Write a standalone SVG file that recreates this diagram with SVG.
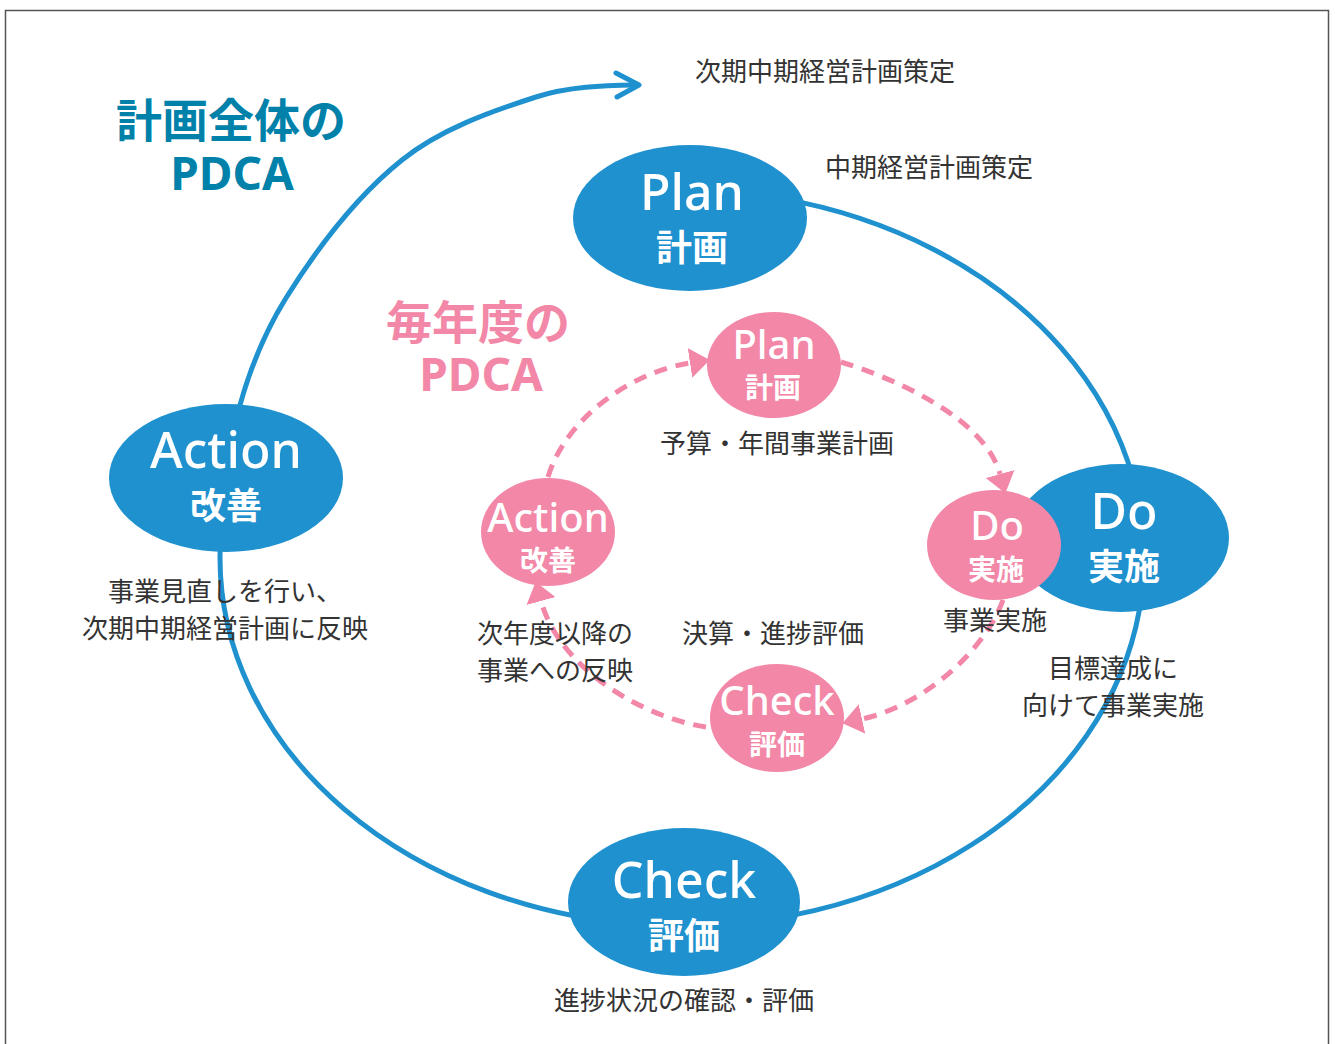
<svg xmlns="http://www.w3.org/2000/svg" width="1335" height="1044" viewBox="0 0 1335 1044">
<defs>
<style>
.lbl{font-family:"Noto Sans CJK JP","Noto Sans",sans-serif;font-size:26px;fill:#333;text-anchor:middle}
.big{font-family:"Noto Sans","Noto Sans CJK JP",sans-serif;font-weight:500;font-size:50px;fill:#fff;text-anchor:middle}
.bigj{font-family:"Noto Sans CJK JP",sans-serif;font-weight:700;font-size:36px;fill:#fff;text-anchor:middle}
.sm{font-family:"Noto Sans","Noto Sans CJK JP",sans-serif;font-weight:500;font-size:40px;fill:#fff;text-anchor:middle}
.smj{font-family:"Noto Sans CJK JP",sans-serif;font-weight:700;font-size:28px;fill:#fff;text-anchor:middle}
.ttl{font-family:"Noto Sans","Noto Sans CJK JP",sans-serif;font-weight:700;font-size:46px;text-anchor:middle}
.blue{fill:#1f91cf}
.pink{fill:#f287a7}
.main{fill:none;stroke:#1f91cf;stroke-width:5}
.dash{fill:none;stroke:#f287a7;stroke-width:5;stroke-dasharray:13 9}
</style>
<marker id="ah" markerUnits="userSpaceOnUse" markerWidth="20" markerHeight="30" viewBox="0 0 20 30" refX="0" refY="15" orient="auto">
<path d="M0,0 L20,15 L0,30 Z" fill="#f287a7"/>
</marker>
</defs>
<rect x="5.5" y="10.5" width="1323" height="1100" fill="#fff" stroke="#555" stroke-width="1.5"/>

<g id="connectors">
<path class="main" d="M780,198.4 A462,368 0 1 1 220,558 C220,469 239,373.5 286,298 C317.8,247.1 355.1,197.5 402,160 C440.3,129.4 489.3,112 536,97 C568.4,86.6 603,85.5 636,85"/>
<polyline points="616,73 639,85 617,97" fill="none" stroke="#1f91cf" stroke-width="5" stroke-linecap="round" stroke-linejoin="round"/>
<path class="dash" d="M548,477 C565,420 630,372 690,363" marker-end="url(#ah)"/>
<path class="dash" d="M841,362 C900,380 985,420 1000,474" marker-end="url(#ah)"/>
<path class="dash" d="M1003,600 C985,650 925,705 862,719" marker-end="url(#ah)"/>
<path class="dash" d="M706,727 C645,718 560,670 541,601" marker-end="url(#ah)"/>
</g>

<g id="title-overall">
<text class="ttl" x="231" y="137" fill="#0081aa">計画全体の</text>
<text class="ttl" x="232" y="190" fill="#0081aa" font-size="53">PDCA</text>
</g>
<g id="title-annual">
<text class="ttl" x="478" y="339" fill="#f287a7">毎年度の</text>
<text class="ttl" x="481" y="391" fill="#f287a7" font-size="51">PDCA</text>
</g>

<g id="node-plan">
<ellipse class="blue" cx="690" cy="218" rx="117" ry="73"/>
<text class="big" x="692" y="210">Plan</text>
<text class="bigj" x="692" y="261">計画</text>
</g>
<g id="node-do">
<ellipse class="blue" cx="1121" cy="538" rx="108" ry="74"/>
<text class="big" x="1124" y="529">Do</text>
<text class="bigj" x="1124" y="580">実施</text>
</g>
<g id="node-check">
<ellipse class="blue" cx="684" cy="902" rx="116" ry="74"/>
<text class="big" x="684" y="898">Check</text>
<text class="bigj" x="684" y="949">評価</text>
</g>
<g id="node-action">
<ellipse class="blue" cx="226" cy="478" rx="117" ry="74"/>
<text class="big" x="226" y="468">Action</text>
<text class="bigj" x="226" y="519">改善</text>
</g>

<g id="node-plan-annual">
<ellipse class="pink" cx="774" cy="365" rx="67" ry="53"/>
<text class="sm" x="774" y="359">Plan</text>
<text class="smj" x="773" y="398">計画</text>
</g>
<g id="node-do-annual">
<ellipse class="pink" cx="994" cy="545" rx="67" ry="55"/>
<text class="sm" x="997" y="540">Do</text>
<text class="smj" x="996" y="580">実施</text>
</g>
<g id="node-check-annual">
<ellipse class="pink" cx="777" cy="718" rx="67" ry="54"/>
<text class="sm" x="777" y="715">Check</text>
<text class="smj" x="777" y="755">評価</text>
</g>
<g id="node-action-annual">
<ellipse class="pink" cx="548" cy="532" rx="67" ry="54"/>
<text class="sm" x="548" y="532">Action</text>
<text class="smj" x="548" y="571">改善</text>
</g>

<g id="labels">
<text class="lbl" x="825" y="81">次期中期経営計画策定</text>
<text class="lbl" x="929" y="177">中期経営計画策定</text>
<text class="lbl" x="777" y="453">予算・年間事業計画</text>
<text class="lbl" x="555" y="643">次年度以降の</text>
<text class="lbl" x="555" y="680">事業への反映</text>
<text class="lbl" x="773" y="643">決算・進捗評価</text>
<text class="lbl" x="995" y="630">事業実施</text>
<text class="lbl" x="1113" y="678">目標達成に</text>
<text class="lbl" x="1113" y="715">向けて事業実施</text>
<text class="lbl" x="684" y="1010">進捗状況の確認・評価</text>
<text class="lbl" x="225" y="601">事業見直しを行い、</text>
<text class="lbl" x="225" y="638">次期中期経営計画に反映</text>
</g>
</svg>
